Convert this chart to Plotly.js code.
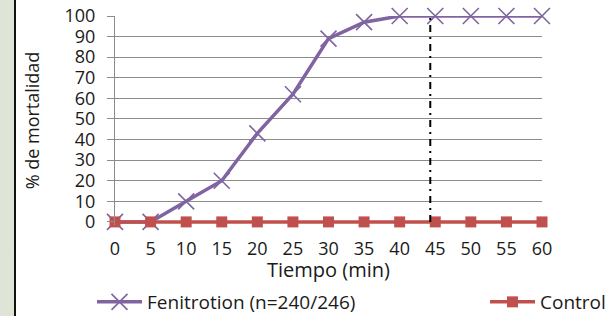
<!DOCTYPE html>
<html>
<head>
<meta charset="utf-8">
<script src="https://cdn.plot.ly/plotly-3.0.1.min.js"></script>
<style>
  html, body { margin: 0; padding: 0; }
  body {
    width: 612px; height: 316px; overflow: hidden;
    background: linear-gradient(to right, #dfe5d8 0px, #dde4d6 14px, #111 14px, #111 16px, #ffffff 16px);
  }
  #chart { width: 612px; height: 316px; }
</style>
</head>
<body>
<div id="chart"></div>
<script>
// ---- data ----
const tiempo = [0, 5, 10, 15, 20, 25, 30, 35, 40, 45, 50, 55, 60];
const fenitrotion = [0, 0, 10, 20, 43, 62, 89, 97, 100, 100, 100, 100, 100];
const control = [0, 0, 0, 0, 0, 0, 0, 0, 0, 0, 0, 0, 0];
const seriesNames = ["Fenitrotion (n=240/246)", "Control"];
const yTicks = [0, 10, 20, 30, 40, 50, 60, 70, 80, 90, 100];
const refLineX = 44.3;
const xTitle = "Tiempo (min)";
const yTitle = "% de mortalidad";

const font = "Open Sans, sans-serif";
const txt = "#1a1a1a";

const traces = [
  {
    x: tiempo, y: fenitrotion, name: seriesNames[0], type: "scatter", mode: "lines+markers",
    line: { color: "#8064A2", width: 3.5 },
    marker: { symbol: "x-thin-open", size: 16, color: "#8064A2", line: { color: "#8064A2", width: 1.6 } },
    cliponaxis: false, legend: "legend"
  },
  {
    x: tiempo, y: control, name: seriesNames[1], type: "scatter", mode: "lines+markers",
    line: { color: "#C0504D", width: 3.5 },
    marker: { symbol: "square", size: 11, color: "#C0504D" },
    cliponaxis: false, legend: "legend2"
  }
];

const legendCommon = {
  orientation: "h", xref: "container", yref: "container",
  yanchor: "middle", xanchor: "left", itemwidth: 45,
  font: { family: font, size: 19, color: txt },
  bgcolor: "rgba(0,0,0,0)", borderwidth: 0
};

const layout = {
  width: 612, height: 316,
  margin: { l: 115, r: 70, t: 16, b: 91 },
  paper_bgcolor: "rgba(0,0,0,0)",
  plot_bgcolor: "rgba(0,0,0,0)",
  font: { family: font, color: txt },
  showlegend: true,
  legend: Object.assign({}, legendCommon, { x: 92 / 612, y: 1 - 302 / 316 }),
  legend2: Object.assign({}, legendCommon, { x: 485 / 612, y: 1 - 302 / 316 }),
  xaxis: {
    range: [0, 60], tickvals: tiempo, ticktext: tiempo.map(String),
    showgrid: false, zeroline: false, showline: false,
    ticks: "outside", ticklen: 7, tickcolor: "rgba(0,0,0,0)",
    tickfont: { family: font, size: 18, color: txt },
    title: { text: xTitle, font: { family: font, size: 20, color: txt } }
  },
  yaxis: {
    range: [-1.5, 100], tickvals: yTicks,
    showgrid: true, gridcolor: "#8c8c8c", gridwidth: 1,
    zeroline: false, showline: true, linecolor: "#8c8c8c", linewidth: 1,
    ticks: "outside", ticklen: 7, tickcolor: "#8c8c8c", ticklabelstandoff: 8,
    tickfont: { family: font, size: 18, color: txt },
    title: { text: yTitle, font: { family: font, size: 18, color: txt }, standoff: 20 }
  },
  shapes: [
    {
      type: "line", xref: "x", yref: "y", x0: refLineX, x1: refLineX, y0: 0, y1: 100,
      line: { color: "#000000", width: 2, dash: "7px,5px,2px,5px" }
    }
  ]
};

Plotly.newPlot("chart", traces, layout, { displayModeBar: false, staticPlot: true });
</script>
</body>
</html>
